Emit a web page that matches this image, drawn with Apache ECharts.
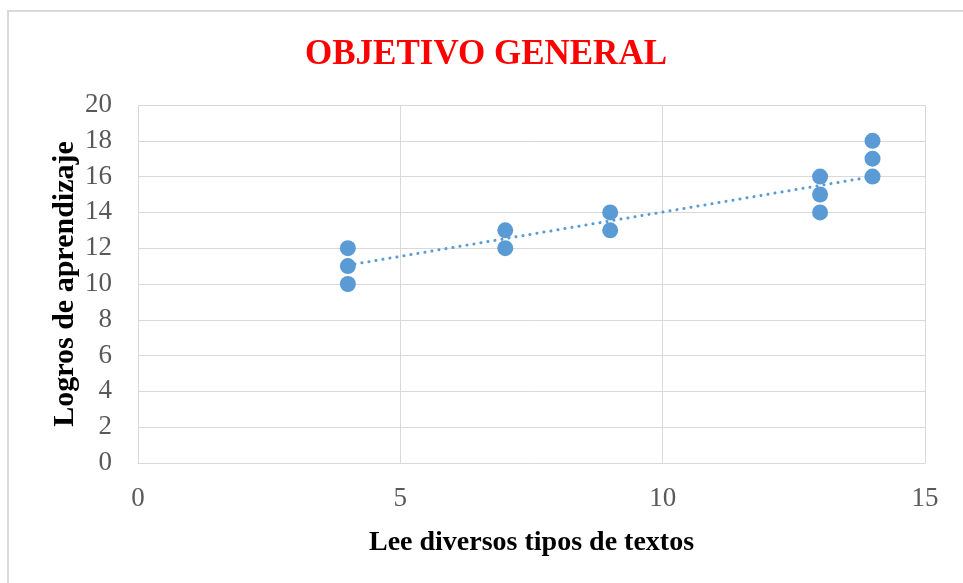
<!DOCTYPE html>
<html>
<head>
<meta charset="utf-8">
<script src="https://cdn.jsdelivr.net/npm/echarts@6/dist/echarts.min.js"></script>
<style>
  html, body { margin: 0; padding: 0; background: #fff; }
  #chart { width: 963px; height: 583px; }
</style>
</head>
<body>
<div id="chart"></div>
<script>
// puntos
var lectura = [4, 4, 4, 7, 7, 9, 9, 13, 13, 13, 14, 14, 14];
var logros = [10, 11, 12, 12, 13, 13, 14, 14, 15, 16, 16, 17, 18];
// linea de tendencia (extremos leidos)
var trendX = [4, 14];
var trendY = [11.05, 16.0];

var serif = '"Liberation Serif", "Times New Roman", serif';
var blue = '#5b9bd5';

var points = lectura.map(function (x, i) { return [x, logros[i]]; });
var trend = trendX.map(function (x, i) { return [x, trendY[i]]; });

var chart = echarts.init(document.getElementById('chart'), null, {renderer: 'canvas'});
chart.setOption({
    backgroundColor: '#fff',
    animation: false,
    title: {
        text: 'OBJETIVO GENERAL',
        left: 305,
        top: 37,
        padding: 0,
        textStyle: {color: '#ff0000', fontFamily: serif, fontWeight: 'bold', fontSize: 35}
    },
    graphic: [{
        type: 'rect',
        shape: {x: 8, y: 11, width: 2000, height: 1000},
        style: {fill: 'none', stroke: '#d9d9d9', lineWidth: 2},
        silent: true
    }],
    grid: {left: 138, right: 38, top: 105, bottom: 120},
    xAxis: {
        type: 'value',
        min: 0,
        max: 15,
        interval: 5,
        name: 'Lee diversos tipos de textos',
        nameLocation: 'middle',
        nameGap: 66,
        nameMoveOverlap: false,
        nameTextStyle: {color: '#000', fontFamily: serif, fontWeight: 'bold', fontSize: 28},
        axisLine: {show: true, lineStyle: {color: '#d9d9d9', width: 1}},
        axisTick: {show: false},
        axisLabel: {margin: 22, color: '#595959', fontFamily: serif, fontSize: 27},
        splitLine: {show: true, lineStyle: {color: '#d9d9d9', width: 1}}
    },
    yAxis: {
        type: 'value',
        min: 0,
        max: 20,
        interval: 2,
        name: 'Logros de aprendizaje',
        nameLocation: 'middle',
        nameGap: 58,
        nameMoveOverlap: false,
        nameTextStyle: {color: '#000', fontFamily: serif, fontWeight: 'bold', fontSize: 30},
        axisLine: {show: false},
        axisTick: {show: false},
        axisLabel: {margin: 26, color: '#595959', fontFamily: serif, fontSize: 27},
        splitLine: {show: true, lineStyle: {color: '#d9d9d9', width: 1}}
    },
    series: [{
        type: 'line',
        data: trend,
        symbol: 'none',
        z: 1,
        lineStyle: {color: blue, width: 3, type: [0.1, 7], cap: 'round'}
    }, {
        type: 'scatter',
        data: points,
        symbol: 'circle',
        symbolSize: 16,
        z: 2,
        itemStyle: {color: blue, opacity: 1}
    }]
});
</script>
</body>
</html>
